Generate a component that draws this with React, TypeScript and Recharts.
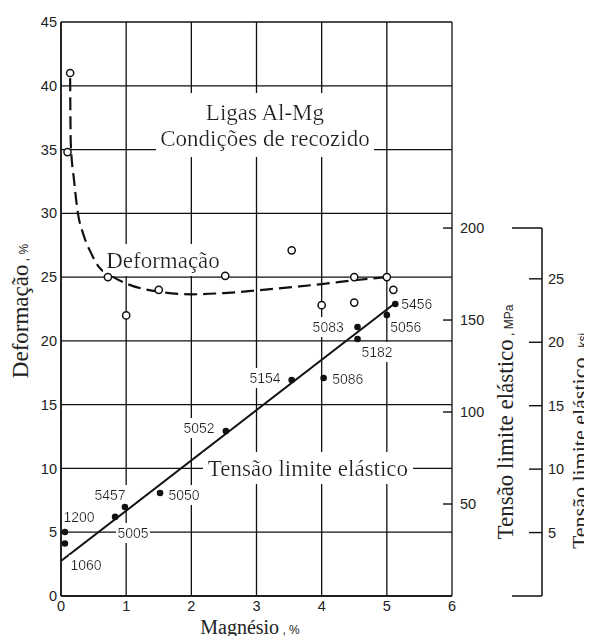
import React from 'react';
import { ComposedChart, XAxis, YAxis, CartesianGrid, Line, Scatter, Label } from 'recharts';

const SERIF = '"Liberation Serif", "Times New Roman", serif';
const SANS = '"Liberation Sans", Arial, sans-serif';
const INK = '#111';
const TEXT = '#222';

// ---- axes ----
const magnesioTicks = [0, 1, 2, 3, 4, 5, 6];
const deformacaoTicks = [0, 5, 10, 15, 20, 25, 30, 35, 40, 45];
const mpaTicks = [50, 100, 150, 200];
const ksiTicks = [5, 10, 15, 20, 25];
const MPA_MAX = 312;
const MPA_PER_KSI = 6.895;
const KSI_TOP = 200 / MPA_PER_KSI;

// ---- deformation (open circles, %) ----
const deformacaoPoints = [
  { x: 0.14, y: 41.0 },
  { x: 0.1, y: 34.8 },
  { x: 0.72, y: 25.0 },
  { x: 1.0, y: 22.0 },
  { x: 1.5, y: 24.0 },
  { x: 2.52, y: 25.1 },
  { x: 3.54, y: 27.1 },
  { x: 4.0, y: 22.8 },
  { x: 4.5, y: 23.0 },
  { x: 4.5, y: 25.0 },
  { x: 5.0, y: 25.0 },
  { x: 5.1, y: 24.0 },
];

// dashed trend curve of deformation
const deformacaoCurve = [
  { x: 0.14, y: 40.6 },
  { x: 0.15, y: 35.5 },
  { x: 0.2, y: 32.6 },
  { x: 0.26, y: 30.0 },
  { x: 0.34, y: 28.4 },
  { x: 0.46, y: 26.9 },
  { x: 0.58, y: 25.8 },
  { x: 0.77, y: 25.1 },
  { x: 1.0, y: 24.5 },
  { x: 1.5, y: 23.85 },
  { x: 2.0, y: 23.65 },
  { x: 2.5, y: 23.75 },
  { x: 3.0, y: 23.95 },
  { x: 3.5, y: 24.2 },
  { x: 4.0, y: 24.45 },
  { x: 4.5, y: 24.75 },
  { x: 5.0, y: 25.0 },
];

// ---- yield strength (filled dots, MPa) ----
const tensaoPoints = [
  { liga: '1200', x: 0.06, y: 34.8 },
  { liga: '1060', x: 0.06, y: 28.5 },
  { liga: '5005', x: 0.83, y: 43.0 },
  { liga: '5457', x: 0.98, y: 48.4 },
  { liga: '5050', x: 1.52, y: 56.0 },
  { liga: '5052', x: 2.53, y: 89.7 },
  { liga: '5154', x: 3.54, y: 117.4 },
  { liga: '5086', x: 4.03, y: 118.5 },
  { liga: '5083', x: 4.55, y: 146.2 },
  { liga: '5182', x: 4.55, y: 139.7 },
  { liga: '5056', x: 5.0, y: 152.7 },
  { liga: '5456', x: 5.13, y: 158.7 },
];

const tensaoFit = [
  { x: 0, y: 19 },
  { x: 5.12, y: 159 },
];

// ---- annotations ----
const gradeLabels = [
  { x: 0.276, y: 42.9, lines: ['1200'] },
  { x: 0.384, y: 16.8, lines: ['1060'] },
  { x: 0.752, y: 54.9, lines: ['5457'] },
  { x: 1.105, y: 34.2, lines: ['5005'] },
  { x: 1.887, y: 54.9, lines: ['5050'] },
  { x: 2.118, y: 91.3, lines: ['5052'] },
  { x: 3.13, y: 118.5, lines: ['5154'] },
  { x: 4.4, y: 117.9, lines: ['5086'] },
  { x: 4.1, y: 146.2, lines: ['5083'] },
  { x: 4.85, y: 132.6, lines: ['5182'] },
  { x: 5.29, y: 146.2, lines: ['5056'] },
  { x: 5.46, y: 158.7, lines: ['5456'] },
];

const textLabels = [
  { x: 3.13, y: 36.9, lines: ['Ligas Al-Mg', 'Condições de recozido'] },
  { x: 1.565, y: 26.34, lines: ['Deformação'] },
  { x: 3.79, y: 10.03, lines: ['Tensão limite elástico'] },
];

const makeTextShape = (family: string, size: number, lh: number) => (props: any) => {
  const { cx, cy, payload } = props;
  if (cx == null || cy == null) return null;
  const lines: string[] = payload.lines;
  const y0 = cy - ((lines.length - 1) * lh) / 2;
  return (
    <text
      x={cx}
      y={y0}
      textAnchor="middle"
      dominantBaseline="central"
      fontFamily={family}
      fontSize={size}
      fill={TEXT}
      filter="url(#paperBg)"
    >
      {lines.map((l, i) => (
        <tspan key={i} x={cx} y={y0 + i * lh}>
          {l}
        </tspan>
      ))}
    </text>
  );
};

const serifShape = makeTextShape(SERIF, 23, 26);
const sansShape = makeTextShape(SANS, 14, 16);

const openCircle = (props: any) => {
  const { cx, cy } = props;
  if (cx == null || cy == null) return null;
  return <circle cx={cx} cy={cy} r={3.6} fill="#fff" stroke={INK} strokeWidth={1.5} />;
};

const filledDot = (props: any) => {
  const { cx, cy } = props;
  if (cx == null || cy == null) return null;
  return <circle cx={cx} cy={cy} r={3.3} fill={INK} />;
};

const MpaTick = (props: any) => {
  const { x, y, payload } = props;
  return (
    <g>
      <line x1={x - 9} y1={y} x2={x} y2={y} stroke={INK} strokeWidth={1.4} />
      <text x={x + 8} y={y} dy="0.35em" textAnchor="start" fontFamily={SANS} fontSize={14.5} fill={TEXT}>
        {payload.value}
      </text>
    </g>
  );
};

const KsiTick = (props: any) => {
  const { x, y, payload } = props;
  const v = payload.value;
  if (v === 0 || v === KSI_TOP) {
    return <line x1={x - 30} y1={y} x2={x} y2={y} stroke={INK} strokeWidth={1.5} />;
  }
  return (
    <g>
      <line x1={x - 13} y1={y} x2={x} y2={y} stroke={INK} strokeWidth={1.4} />
      <text x={x + 6} y={y} dy="0.35em" textAnchor="start" fontFamily={SANS} fontSize={14.5} fill={TEXT}>
        {v}
      </text>
    </g>
  );
};

const RotTitle = ({ x, y, main, unit, size }: any) => (
  <text
    x={x}
    y={y}
    transform={`rotate(-90, ${x}, ${y})`}
    textAnchor="middle"
    fill={TEXT}
  >
    <tspan fontFamily={SERIF} fontSize={size}>{main}</tspan>
    <tspan fontFamily={SANS} fontSize={12}>{unit}</tspan>
  </text>
);

const DefTitle = (props: any) => {
  const vb = props.viewBox || {};
  return <RotTitle x={vb.x + 17} y={vb.y + vb.height / 2 + 2} main="Deformação" unit=" , %" size={23} />;
};

const MpaTitle = (props: any) => {
  const vb = props.viewBox || {};
  return <RotTitle x={vb.x + 61} y={vb.y + 400} main="Tensão limite elástico" unit=" , MPa" size={23} />;
};

const KsiTitle = (props: any) => {
  const vb = props.viewBox || {};
  return <RotTitle x={vb.x + 45} y={vb.y + 213} main="Tensão limite elástico" unit=" , ksi" size={22} />;
};

const MgTitle = (props: any) => {
  const vb = props.viewBox || {};
  const x = vb.x + 189;
  const y = vb.y + 38;
  return (
    <text x={x} y={y} textAnchor="middle" fill={TEXT}>
      <tspan fontFamily={SERIF} fontSize={20}>Magnésio</tspan>
      <tspan fontFamily={SANS} fontSize={12}> , %</tspan>
    </text>
  );
};

const ksiAxisData = [0, ...ksiTicks, KSI_TOP].map((k) => ({ x: 0, k }));

export default function App() {
  return (
    <div style={{ position: 'relative', width: 592, height: 644, margin: -8, background: '#fff' }}>
      <svg width={0} height={0} style={{ position: 'absolute' }}>
        <defs>
          <filter id="paperBg" x="-0.02" y="-0.12" width="1.04" height="1.24">
            <feFlood floodColor="#ffffff" />
            <feMerge>
              <feMergeNode />
              <feMergeNode in="SourceGraphic" />
            </feMerge>
          </filter>
        </defs>
      </svg>
      <ComposedChart width={592} height={644} margin={{ top: 22, right: 50, bottom: 18, left: 11 }}>
        <CartesianGrid stroke={INK} strokeWidth={1.3} />
        <XAxis
          type="number"
          dataKey="x"
          domain={[0, 6]}
          ticks={magnesioTicks}
          interval={0}
          allowDataOverflow
          height={30}
          tickLine={false}
          tickSize={0}
          tickMargin={5}
          axisLine={{ stroke: INK, strokeWidth: 1.5 }}
          tick={{ fill: TEXT, fontSize: 14.5, fontFamily: SANS }}
        >
          <Label content={MgTitle} />
        </XAxis>
        <YAxis
          type="number"
          domain={[0, 45]}
          ticks={deformacaoTicks}
          interval={0}
          allowDataOverflow
          width={50}
          tickLine={false}
          tickSize={0}
          tickMargin={4}
          axisLine={{ stroke: INK, strokeWidth: 1.5 }}
          tick={{ fill: TEXT, fontSize: 14.5, fontFamily: SANS }}
        >
          <Label content={DefTitle} />
        </YAxis>
        <YAxis
          yAxisId="mpa"
          orientation="right"
          type="number"
          domain={[0, MPA_MAX]}
          ticks={mpaTicks}
          interval={0}
          allowDataOverflow
          width={90}
          axisLine={false}
          tickLine={false}
          tickSize={0}
          tickMargin={0}
          tick={(p: any) => <MpaTick {...p} />}
        >
          <Label content={MpaTitle} />
        </YAxis>

        <Scatter data={textLabels} dataKey="y" shape={serifShape} isAnimationActive={false} legendType="none" />
        <Scatter data={gradeLabels} dataKey="y" yAxisId="mpa" shape={sansShape} isAnimationActive={false} legendType="none" />

        <Line
          data={deformacaoCurve}
          dataKey="y"
          type="monotone"
          stroke={INK}
          strokeWidth={2.2}
          strokeDasharray="13 6"
          dot={false}
          activeDot={false}
          isAnimationActive={false}
        />
        <Line
          data={tensaoFit}
          dataKey="y"
          yAxisId="mpa"
          type="linear"
          stroke={INK}
          strokeWidth={2}
          dot={false}
          activeDot={false}
          isAnimationActive={false}
        />
        <Scatter data={deformacaoPoints} dataKey="y" shape={openCircle} isAnimationActive={false} />
        <Scatter data={tensaoPoints} dataKey="y" yAxisId="mpa" shape={filledDot} isAnimationActive={false} />
      </ComposedChart>

      <div style={{ position: 'absolute', left: 490, top: 200, pointerEvents: 'none' }}>
        <ComposedChart width={102} height={420} margin={{ top: 28, right: 10, bottom: 24, left: 12 }} data={ksiAxisData}>
          <XAxis type="number" dataKey="x" hide domain={[0, 1]} />
          <YAxis
            yAxisId="ksi"
            orientation="right"
            type="number"
            dataKey="k"
            domain={[0, KSI_TOP]}
            ticks={[0, ...ksiTicks, KSI_TOP]}
            interval={0}
            allowDataOverflow
            width={40}
            axisLine={{ stroke: INK, strokeWidth: 1.5 }}
            tickLine={false}
            tickSize={0}
            tickMargin={0}
            tick={(p: any) => <KsiTick {...p} />}
          >
            <Label content={KsiTitle} />
          </YAxis>
        </ComposedChart>
      </div>
    </div>
  );
}
